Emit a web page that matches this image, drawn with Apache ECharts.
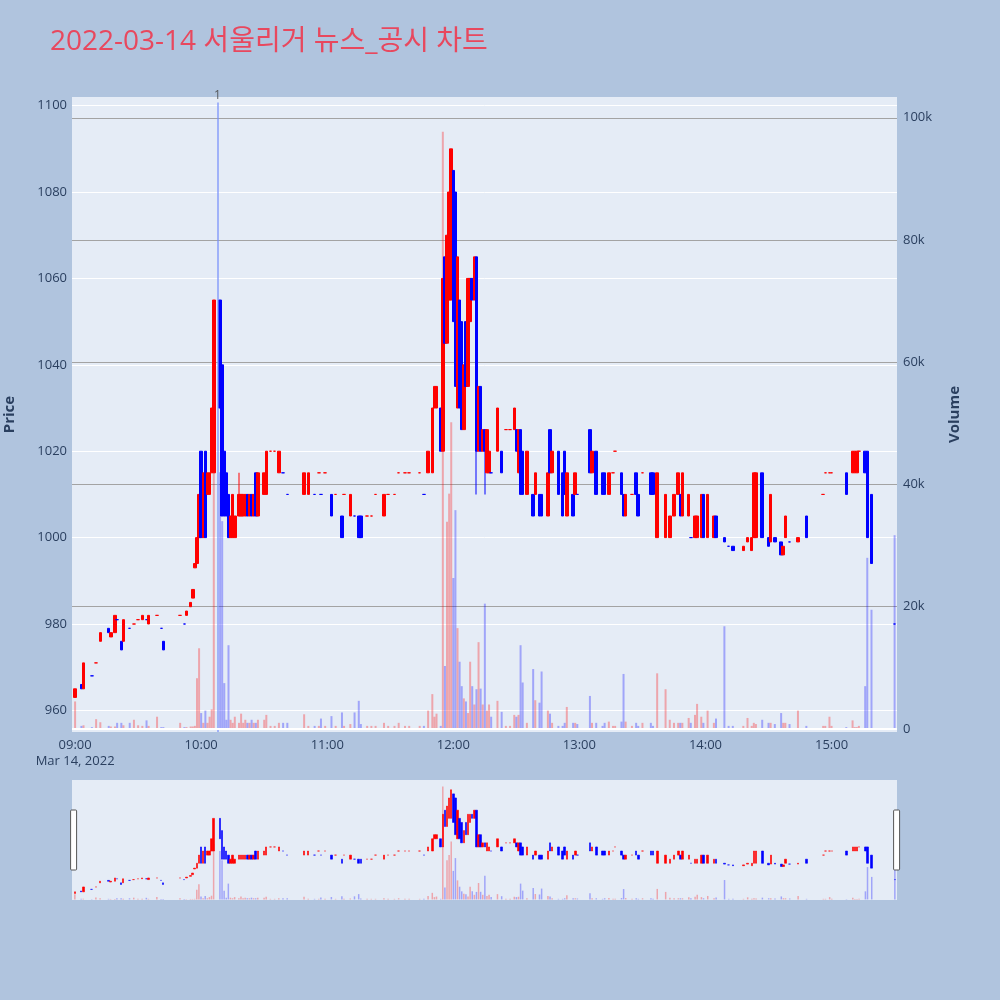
<!DOCTYPE html>
<html><head><meta charset="utf-8">
<script src="https://cdn.jsdelivr.net/npm/echarts@6/dist/echarts.min.js"></script>
<style>html,body{margin:0;padding:0;background:#b0c4de}#c{width:1000px;height:1000px}</style>
</head><body><div id="c"></div>
<script>
const day = '2022-03-14';
const chartTitle = '2022-03-14 서울리거 뉴스_공시 차트';
const dateLabel = 'Mar 14, 2022';
const newsTime = '10:07:45';
const newsLabel = '1';

const times = [
'09:00','09:03','09:04','09:08','09:10','09:12','09:16','09:17','09:19','09:20',
'09:22','09:23','09:26','09:28','09:30','09:32','09:34','09:35','09:39','09:41',
'09:42','09:50','09:52','09:53','09:55','09:56','09:57','09:58','09:59','10:00',
'10:01','10:02','10:03','10:04','10:05','10:06','10:09','10:10','10:11','10:12',
'10:13','10:14','10:15','10:16','10:18','10:19','10:20','10:21','10:22','10:23',
'10:24','10:25','10:26','10:27','10:30','10:31','10:33','10:35','10:37','10:39',
'10:41','10:49','10:51','10:54','10:56','10:57','10:59','11:02','11:04','11:07',
'11:08','11:11','11:13','11:15','11:16','11:19','11:21','11:23','11:27','11:29',
'11:32','11:34','11:37','11:39','11:44','11:46','11:48','11:50','11:51','11:52',
'11:54','11:55','11:56','11:57','11:58','11:59','12:00','12:01','12:02','12:03',
'12:04','12:05','12:06','12:07','12:08','12:09','12:10','12:11','12:12','12:13',
'12:14','12:15','12:16','12:17','12:18','12:21','12:23','12:25','12:27','12:29',
'12:30','12:31','12:32','12:33','12:35','12:38','12:39','12:41','12:42','12:45',
'12:46','12:47','12:50','12:52','12:53','12:54','12:57','12:58','12:59','13:05',
'13:06','13:08','13:11','13:12','13:14','13:16','13:17','13:20','13:21','13:22',
'13:25','13:27','13:28','13:30','13:34','13:35','13:37','13:41','13:43','13:45',
'13:47','13:48','13:49','13:52','13:53','13:55','13:56','13:58','13:59','14:01',
'14:04','14:05','14:09','14:11','14:13','14:18','14:20','14:22','14:23','14:24',
'14:27','14:30','14:31','14:33','14:36','14:37','14:38','14:40','14:44','14:48',
'14:56','14:57','14:59','15:00','15:07','15:10','15:11','15:12','15:13','15:16',
'15:17','15:19','15:30'
];
const opens = [
963,966,965,968,971,976,979,977,978,981,
976,976,979,980,981,981,981,980,982,979,
976,982,980,982,984,986,993,994,1000,1020,
1000,1020,1010,1010,1015,1015,1055,1040,1020,1015,
1010,1000,1000,1000,1005,1005,1005,1005,1010,1005,
1010,1005,1015,1005,1010,1010,1020,1020,1015,1015,
1010,1010,1010,1010,1015,1010,1015,1010,1010,1005,
1010,1005,1005,1005,1005,1005,1005,1010,1005,1010,
1010,1015,1015,1015,1015,1010,1015,1015,1030,1030,
1030,1020,1065,1045,1055,1055,1085,1080,1030,1055,
1050,1025,1050,1035,1050,1060,1055,1065,1020,1035,
1020,1025,1015,1015,1015,1020,1020,1025,1025,1025,
1025,1015,1025,1020,1010,1010,1010,1010,1010,1005,
1025,1015,1020,1015,1020,1005,1010,1010,1010,1025,
1015,1020,1015,1015,1010,1015,1020,1015,1010,1005,
1010,1015,1010,1015,1015,1015,1000,1000,1000,1005,
1010,1010,1005,1005,1000,1000,1000,1000,1010,1000,
1000,1005,1000,998,998,997,999,997,1000,1000,
1015,1000,999,1000,999,996,1000,999,999,1005,
1010,1015,1015,1015,1015,1015,1015,1015,1020,1020,
1020,1010,980
];
const closes = [
965,965,971,968,971,978,978,978,982,981,
974,981,979,980,981,982,981,982,982,979,
974,982,980,983,985,988,994,1000,1010,1000,
1015,1000,1015,1015,1030,1055,1030,1005,1005,1005,
1000,1005,1010,1005,1010,1010,1010,1010,1005,1010,
1005,1010,1005,1015,1015,1020,1020,1020,1020,1015,
1010,1015,1015,1010,1015,1010,1015,1005,1010,1000,
1010,1010,1005,1000,1000,1005,1005,1010,1010,1010,
1010,1015,1015,1015,1015,1010,1020,1030,1035,1035,
1020,1060,1045,1070,1080,1090,1050,1035,1065,1030,
1025,1040,1035,1060,1060,1055,1065,1020,1035,1020,
1025,1020,1025,1020,1015,1030,1015,1025,1025,1030,
1020,1025,1010,1010,1020,1005,1015,1005,1005,1015,
1015,1020,1010,1005,1010,1015,1005,1015,1010,1015,
1020,1010,1010,1010,1015,1015,1020,1010,1005,1010,
1010,1010,1005,1015,1010,1010,1015,1010,1005,1010,
1015,1005,1015,1010,1000,1005,1005,1010,1000,1010,
1005,1000,999,998,997,998,1000,1000,1015,1015,
1000,998,1010,999,996,998,1005,999,1000,1000,
1010,1015,1015,1015,1010,1020,1020,1020,1020,1015,
1000,994,980
];
const lows = [
963,965,965,968,971,976,978,977,978,981,
974,976,979,980,981,981,981,980,982,979,
974,982,980,982,984,986,993,994,1000,1000,
1000,1000,1010,1010,1015,1015,1030,1005,1005,1005,
1000,1000,1000,1000,1005,1005,1005,1005,1005,1005,
1005,1005,1005,1005,1010,1010,1020,1020,1015,1015,
1010,1010,1010,1010,1015,1010,1015,1005,1010,1000,
1010,1005,1005,1000,1000,1005,1005,1010,1005,1010,
1010,1015,1015,1015,1015,1010,1015,1015,1030,1030,
1020,1020,1045,1045,1055,1055,1050,1035,1030,1030,
1025,1025,1035,1035,1050,1055,1055,1010,1020,1020,
1020,1010,1015,1015,1015,1015,1015,1025,1025,1025,
1020,1015,1010,1010,1010,1005,1010,1005,1005,1005,
1015,1015,1010,1005,1010,1005,1005,1010,1010,1015,
1015,1010,1010,1010,1010,1015,1020,1010,1005,1005,
1010,1010,1005,1015,1010,1010,1000,1000,1000,1005,
1010,1005,1005,1005,1000,1000,1000,1000,1000,1000,
1000,1000,999,998,997,997,999,997,1000,1000,
1000,998,999,999,996,996,1000,999,999,1000,
1010,1015,1015,1015,1010,1015,1015,1015,1020,1015,
1000,994,980
];
const highs = [
965,966,971,968,971,978,979,978,982,981,
976,981,979,980,981,982,981,982,982,979,
976,982,980,983,985,988,994,1000,1010,1020,
1015,1020,1015,1015,1030,1055,1055,1040,1020,1015,
1010,1005,1010,1005,1015,1010,1010,1010,1010,1010,
1010,1010,1015,1015,1015,1020,1020,1020,1020,1015,
1010,1015,1015,1010,1015,1010,1015,1010,1010,1005,
1010,1010,1005,1005,1005,1005,1005,1010,1010,1010,
1010,1015,1015,1015,1015,1010,1020,1030,1035,1035,
1030,1060,1065,1070,1080,1090,1085,1080,1065,1055,
1050,1040,1050,1060,1060,1060,1065,1065,1035,1035,
1025,1025,1025,1020,1015,1030,1020,1025,1025,1030,
1025,1025,1025,1020,1020,1010,1015,1010,1010,1015,
1025,1020,1020,1015,1020,1015,1010,1015,1010,1025,
1020,1020,1015,1015,1015,1015,1020,1015,1010,1010,
1010,1015,1010,1015,1015,1015,1015,1010,1005,1010,
1015,1010,1015,1010,1000,1005,1005,1010,1010,1010,
1005,1005,1000,998,998,998,1000,1000,1015,1015,
1015,1000,1010,1000,999,998,1005,999,1000,1005,
1010,1015,1015,1015,1015,1020,1020,1020,1020,1020,
1020,1010,980
];
// volume in thousands of shares
const volumes = [
4.5,0.5,0.6,0.3,1.6,1.1,0.5,0.4,0.4,1.0,
1.0,0.6,1.0,1.5,0.6,0.5,1.4,0.5,2.0,0.3,
0.3,1.0,0.3,0.3,0.4,0.4,0.5,8.3,13.2,2.6,
1.0,3.0,1.0,2.0,3.2,48,42,34,7.5,1.5,
13.7,1.5,1.0,2.0,1.0,2.5,1.0,1.5,1.0,1.0,
1.5,1.0,1.0,1.5,1.5,2.3,0.5,0.5,1.0,1.0,
1.0,2.4,0.5,0.5,0.5,1.7,0.5,2.1,0.5,2.7,
0.5,0.8,2.7,4.6,0.8,0.5,0.5,0.5,1.0,0.5,
0.5,1.0,0.5,0.5,0.5,0.5,3.0,5.7,2.0,2.5,
0.5,97.7,10.3,33.9,38.5,50.2,24.7,35.8,16.5,11,
7,5,4.5,2.6,11,7,4,6.5,14.2,6.6,
4,20.5,3,4,2,4.6,2.8,0.5,0.5,2.3,
2.0,2.3,13.7,7.6,1.0,9.8,4.7,4.3,9.4,3.0,
2.5,1.0,0.5,0.5,1.0,3.6,1.0,1.0,0.8,5.4,
1.0,1.0,0.5,1.0,1.2,0.5,0.5,1.2,9.0,1.2,
0.5,1.0,0.5,1.0,1.0,0.5,9.1,6.5,1.5,1.0,
1.0,1.0,1.0,1.8,1.0,2.3,4.1,2.0,1.0,3.0,
1.0,1.7,16.8,0.5,0.5,0.5,1.8,0.5,1.0,0.8,
1.5,1.0,1.0,0.8,2.6,1.0,1.0,0.8,3.0,0.5,
0.5,0.5,2.0,0.5,0.3,1.4,0.3,0.3,0.5,7.0,
28,19.5,31.7
];
const priceTickStep = 20;
const volumeTickStep = 20000;

const toTs = t => new Date(day + 'T' + (t.length === 5 ? t + ':00' : t)).getTime();
const ts = times.map(toTs);
const signs = closes.map((c, i) => {
  const o = opens[i];
  if (c > o) return 1;
  if (c < o) return -1;
  return i > 0 ? (closes[i - 1] <= c ? 1 : -1) : 1;
});
const bodyData = ts.map((t, i) => [t, opens[i], closes[i], Math.min(opens[i], closes[i]), Math.max(opens[i], closes[i])]);
const wickData = [];
ts.forEach((t, i) => {
  if (lows[i] < Math.min(opens[i], closes[i]) || highs[i] > Math.max(opens[i], closes[i])) {
    wickData.push(signs[i] > 0 ? [t, lows[i], highs[i], lows[i], highs[i]] : [t, highs[i], lows[i], lows[i], highs[i]]);
  }
});
const volData = ts.map((t, i) => [t, volumes[i] * 1000]);
const volColor = p => signs[p.dataIndex] > 0 ? 'rgba(255,0,0,0.3)' : 'rgba(0,0,255,0.3)';

const xMin = toTs('08:59:00');
const xMax = toTs('15:30:40');
const newsTs = toTs(newsTime);
const pad = n => (n < 10 ? '0' : '') + n;
const font = "'Open Sans', 'Noto Sans CJK KR', sans-serif";
const axisColor = '#2a3f5f';
const newsLineColor = 'rgb(120,145,250)';
const candleStyle = { color: '#ff0000', color0: '#0000ff', borderColor: '#ff0000', borderColor0: '#0000ff', borderWidth: 1 };

const chart = echarts.init(document.getElementById('c'));
chart.setOption({
  backgroundColor: '#b0c4de',
  animation: false,
  textStyle: { fontFamily: font },
  title: {
    text: chartTitle, left: 45, top: 23,
    textStyle: { color: '#e8485e', fontSize: 28, fontWeight: 'normal', fontFamily: font }
  },
  grid: [
    { left: 72, top: 97, width: 825, height: 635, show: true, backgroundColor: '#e5ecf6', borderWidth: 0, containLabel: false, outerBoundsMode: 'none' },
    { left: 72, top: 780, width: 825, height: 120, show: true, backgroundColor: '#e5ecf6', borderWidth: 0, containLabel: false, outerBoundsMode: 'none' }
  ],
  xAxis: [
    {
      type: 'time', gridIndex: 0, min: xMin, max: xMax,
      minInterval: 3600000, maxInterval: 3600000,
      axisLine: { show: false }, axisTick: { show: false }, splitLine: { show: false },
      axisLabel: {
        color: axisColor, fontSize: 13, margin: 5, lineHeight: 16,
        showMinLabel: false, showMaxLabel: false, hideOverlap: false,
        formatter: v => {
          const d = new Date(v);
          if (d.getMinutes() !== 0 || d.getSeconds() !== 0) return '';
          const s = pad(d.getHours()) + ':00';
          return d.getHours() === 9 ? s + '\n' + dateLabel : s;
        }
      }
    },
    { type: 'time', gridIndex: 1, min: xMin, max: xMax, show: false }
  ],
  yAxis: [
    {
      type: 'value', gridIndex: 0, position: 'left', min: 955, max: 1102, splitNumber: 7,
      name: 'Price', nameLocation: 'middle', nameGap: 55, nameRotate: 90,
      nameTextStyle: { color: axisColor, fontSize: 15, fontWeight: 'bold' },
      axisLine: { show: false }, axisTick: { show: false },
      axisLabel: { color: axisColor, fontSize: 13, margin: 5, formatter: v => (v % priceTickStep === 0 ? String(v) : '') },
      splitLine: { show: true, showMinLine: false, showMaxLine: false, lineStyle: { color: '#ffffff', width: 1 } }
    },
    {
      type: 'value', gridIndex: 0, position: 'right', min: -500, max: 103400, splitNumber: 5,
      name: 'Volume', nameLocation: 'middle', nameGap: 50, nameRotate: 90,
      nameTextStyle: { color: axisColor, fontSize: 15, fontWeight: 'bold' },
      axisLine: { show: false }, axisTick: { show: false },
      axisLabel: {
        color: axisColor, fontSize: 13, margin: 6,
        formatter: v => (v % volumeTickStep === 0 ? (v === 0 ? '0' : (v / 1000) + 'k') : '')
      },
      splitLine: { show: true, showMinLine: false, showMaxLine: false, lineStyle: { color: '#a3a3a3', width: 1.2 } }
    },
    { type: 'value', gridIndex: 1, min: 955, max: 1102, show: false, splitLine: { show: false } },
    { type: 'value', gridIndex: 1, min: -500, max: 103400, show: false, splitLine: { show: false } }
  ],
  dataZoom: [{
    type: 'slider', xAxisIndex: 1, filterMode: 'none', start: 0, end: 100,
    left: 72, right: 103, top: 780, height: 120,
    showDataShadow: false, showDetail: false, brushSelect: false, moveHandleSize: 0,
    backgroundColor: 'rgba(0,0,0,0)', fillerColor: 'rgba(0,0,0,0)', borderColor: 'rgba(0,0,0,0)',
    handleIcon: 'path://M1,0 h4 a1,1 0 0 1 1,1 v58 a1,1 0 0 1 -1,1 h-4 a1,1 0 0 1 -1,-1 v-58 a1,1 0 0 1 1,-1 z',
    handleSize: '50%',
    handleStyle: { color: '#ffffff', borderColor: '#555555', borderWidth: 1 },
    emphasis: { handleStyle: { color: '#ffffff', borderColor: '#555555' } }
  }],
  series: [
    {
      type: 'candlestick', name: 'wick', xAxisIndex: 0, yAxisIndex: 0, silent: true,
      data: wickData, barWidth: 1.4,
      itemStyle: { color: '#ff0000', color0: '#0000ff', borderColor: '#ff0000', borderColor0: '#0000ff', borderWidth: 0 }
    },
    {
      type: 'candlestick', name: 'Price', xAxisIndex: 0, yAxisIndex: 0,
      data: bodyData, barWidth: 3,
      itemStyle: candleStyle
    },
    {
      type: 'bar', name: 'Volume', xAxisIndex: 0, yAxisIndex: 1,
      data: volData, barWidth: 2,
      itemStyle: { color: volColor },
      markLine: {
        symbol: 'none', silent: true, animation: false,
        lineStyle: { color: newsLineColor, width: 1.5, type: 'solid', opacity: 0.85 },
        data: [
          [
            { coord: [newsTs, -500], lineStyle: { color: newsLineColor, width: 1.5, type: 'solid', opacity: 0.85 }, label: { show: true, formatter: newsLabel, position: 'end', distance: 1, color: '#444', fontSize: 12 } },
            { coord: [newsTs, 102500], lineStyle: { color: newsLineColor, width: 1.5, type: 'solid', opacity: 0.85 } }
          ],
          { yAxis: 0, lineStyle: { color: '#ffffff', width: 2, type: 'solid', opacity: 1 }, label: { show: false } }
        ]
      }
    },
    {
      type: 'candlestick', xAxisIndex: 1, yAxisIndex: 2, silent: true,
      data: bodyData, barWidth: 2,
      itemStyle: { color: '#ff0000', color0: '#0000ff', borderColor: '#ff0000', borderColor0: '#0000ff', borderWidth: 0.6 }
    },
    {
      type: 'bar', xAxisIndex: 1, yAxisIndex: 3, silent: true,
      data: volData, barWidth: 1.5,
      itemStyle: { color: volColor }
    }
  ]
});
</script></body></html>
